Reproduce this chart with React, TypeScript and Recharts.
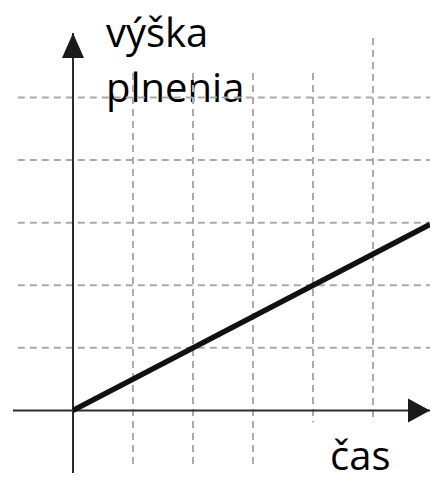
import { LineChart, Line, XAxis, YAxis, ReferenceLine, ReferenceDot, Customized } from "recharts";

// time (x) and filling height (y), in grid units
const times = [0, 5.95];
const heights = [0, 2.97];

const gridXs = [1, 2, 3, 4, 5];
const gridYs = [1, 2, 3, 4, 5];
// vertical grid lines: [top, bottom] in data units
const gridXTops = [5.39, 5.39, 5.39, 5.39, 5.95];
const gridXBottoms = [-0.91, -0.91, -0.91, -0.19, -0.19];

const X_MIN = -1;
const X_MAX = 5.95;
const Y_MIN = -1;
const Y_MAX = 6.03;

const data = times.map((t, i) => ({ t, h: heights[i] }));

const FONT = "'Open Sans', sans-serif";
const GRID = "#aaaaaa";
const AXIS = "#2b2b2b";

export default function App() {
  return (
    <div style={{ position: "absolute", left: 0, top: 0, width: 431, height: 481, overflow: "hidden", background: "#fff" }}>
      <LineChart width={431} height={481} data={data} margin={{ top: 33, right: 1, bottom: 8, left: 13 }}>
        <XAxis hide type="number" dataKey="t" domain={[X_MIN, X_MAX]} allowDataOverflow />
        <YAxis hide type="number" domain={[Y_MIN, Y_MAX]} allowDataOverflow />

        {/* GRID */}
        {gridYs.map((y) => (
          <ReferenceLine
            key={"gy" + y}
            segment={[{ x: -0.92, y }, { x: X_MAX, y }]}
            stroke={GRID}
            strokeWidth={2}
            strokeDasharray="7 5"
          />
        ))}
        {gridXs.map((x, i) => (
          <ReferenceLine
            key={"gx" + x}
            segment={[{ x, y: gridXTops[i] }, { x, y: gridXBottoms[i] }]}
            stroke={GRID}
            strokeWidth={2}
            strokeDasharray="7 5"
          />
        ))}

        {/* AXES */}
        <ReferenceLine y={0} stroke={AXIS} strokeWidth={2} />
        <ReferenceLine x={0} stroke={AXIS} strokeWidth={2} />
        <ReferenceDot
          x={X_MAX}
          y={0}
          shape={(p: any) => (
            <polygon points={`${p.cx},${p.cy} ${p.cx - 22},${p.cy - 12} ${p.cx - 22},${p.cy + 12}`} fill="#1a1a1a" />
          )}
        />
        <ReferenceDot
          x={0}
          y={Y_MAX}
          shape={(p: any) => (
            <polygon points={`${p.cx},${p.cy} ${p.cx - 11},${p.cy + 25} ${p.cx + 11},${p.cy + 25}`} fill="#1a1a1a" />
          )}
        />

        <Line
          type="linear"
          dataKey="h"
          stroke="#111"
          strokeWidth={5.5}
          dot={false}
          isAnimationActive={false}
        />

        {/* LABELS */}
        <Customized
          component={() => (
            <g fontFamily={FONT} fontSize={40} fill="#000">
              <text x={106} y={47}>výška</text>
              <text x={106} y={102}>plnenia</text>
              <text x={330} y={470}>čas</text>
            </g>
          )}
        />
      </LineChart>
    </div>
  );
}
